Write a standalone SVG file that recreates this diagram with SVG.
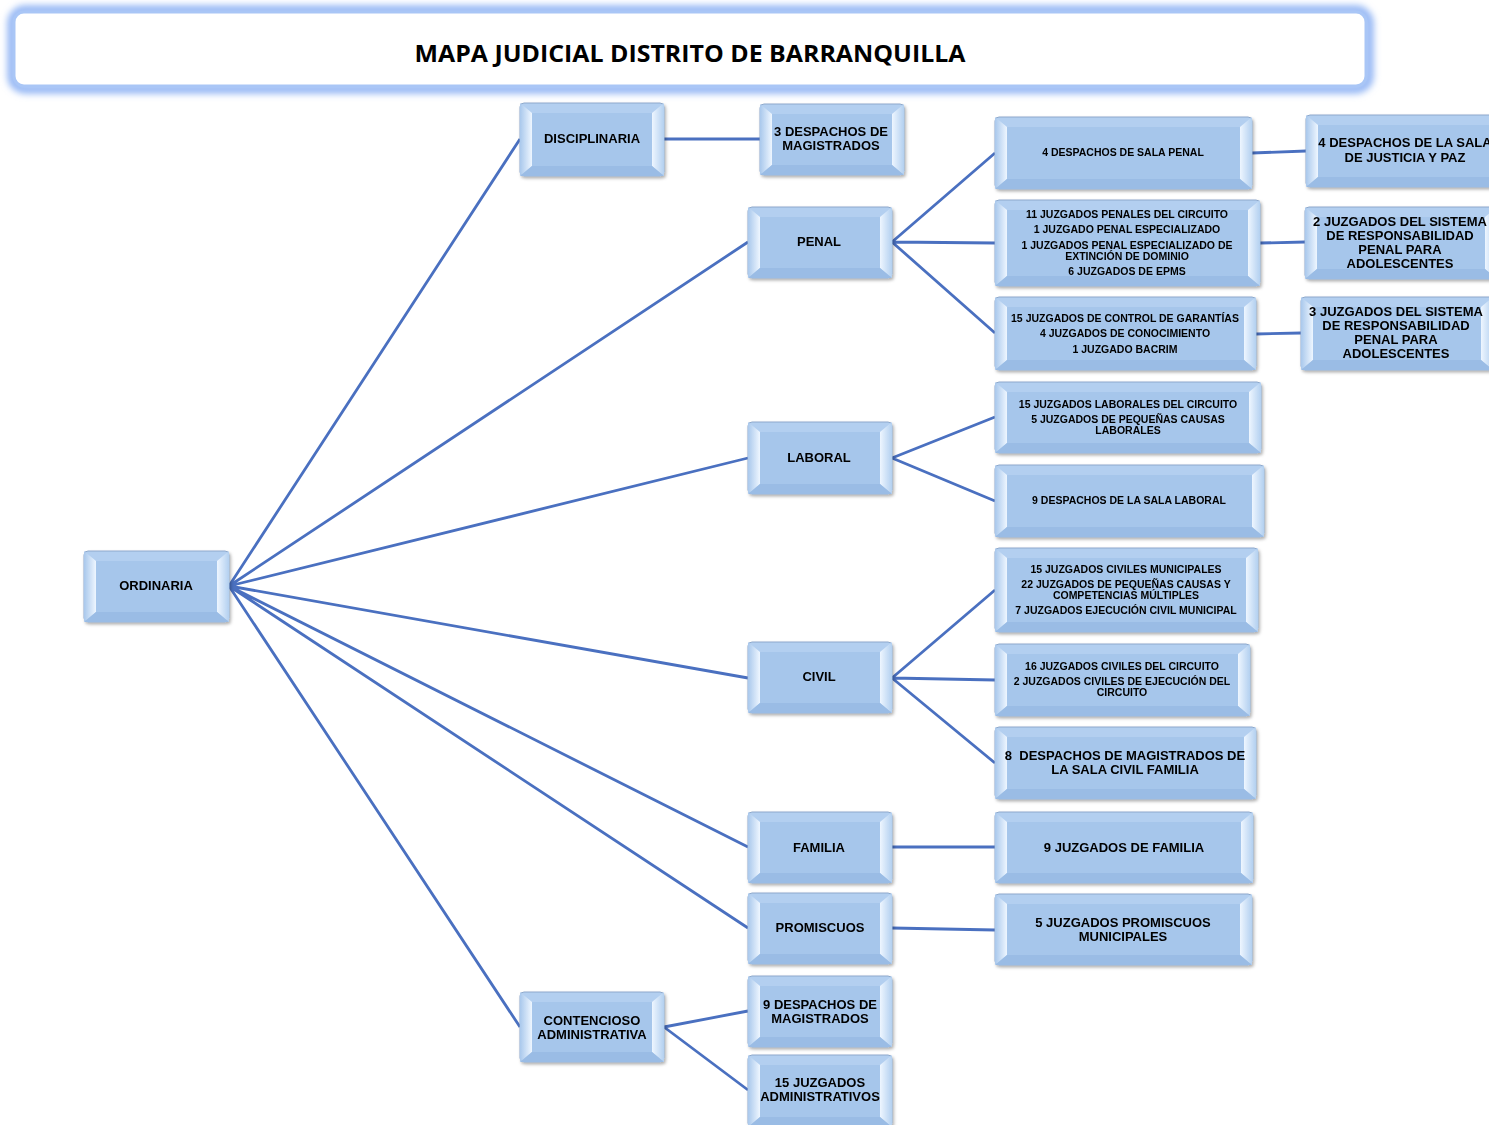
<svg xmlns="http://www.w3.org/2000/svg" width="1489" height="1125" viewBox="0 0 1489 1125">
<defs>
<style>
.o{fill:#b3cff0;stroke:#8ea9cc;stroke-width:1}
.l{fill:url(#gl)}
.r{fill:url(#gr)}
.b{fill:#9abce5}
.i{fill:#a6c6eb}
.t{font-family:"Liberation Sans",Arial,sans-serif;font-weight:700;fill:#000;text-anchor:middle}
.m{font-size:13px}
.s{font-size:10.5px}
.c{fill:none;stroke:#4a70c0;stroke-width:2.8}
.n{filter:url(#sh)}
</style>
<linearGradient id="gl" x1="0" y1="0" x2="1" y2="0"><stop offset="0" stop-color="#a9c8ec"/><stop offset="1" stop-color="#eef6ff"/></linearGradient>
<linearGradient id="gr" x1="0" y1="0" x2="1" y2="0"><stop offset="0" stop-color="#eef6ff"/><stop offset="1" stop-color="#b3d0f0"/></linearGradient>
<filter id="sh" x="-10%" y="-10%" width="125%" height="130%"><feDropShadow dx="1.5" dy="2" stdDeviation="1.5" flood-color="#000" flood-opacity="0.3"/></filter>
<filter id="glow" x="-5%" y="-30%" width="110%" height="160%"><feGaussianBlur stdDeviation="3.5"/></filter>
</defs>
<rect width="1489" height="1125" fill="#fff"/>
<g id="title">
<rect x="12" y="10" width="1357" height="79" rx="13" fill="none" stroke="#8fb3f4" stroke-width="9" filter="url(#glow)"/>
<rect x="14" y="12" width="1352" height="74" rx="10" fill="#fff" stroke="#a9c6f6" stroke-width="3"/>
<text x="690" y="62" font-family="'Open Sans','Liberation Sans',sans-serif" font-weight="700" font-size="24" text-anchor="middle" textLength="551" lengthAdjust="spacingAndGlyphs" fill="#000">MAPA JUDICIAL DISTRITO DE BARRANQUILLA</text>
</g>
<g id="connectors">
<path class="c" d="M229 586L520 139M229 586L748 242M229 586L748 458M229 586L748 678M229 586L748 847M229 586L748 928M229 586L520 1027"/>
<path class="c" d="M664 139L760 139"/>
<path class="c" d="M892 242L995 153M892 242L995 243M892 242L995 333"/>
<path class="c" d="M1252 153L1306 151M1260 243L1305 242M1256 334L1301 333"/>
<path class="c" d="M892 458L995 417M892 458L995 501"/>
<path class="c" d="M892 678L995 590M892 678L995 680M892 678L995 763"/>
<path class="c" d="M892 847L995 847M892 928L995 930"/>
<path class="c" d="M664 1027L748 1011M664 1027L748 1090"/>
</g>
<g id="ordinaria" class="n">
<rect class="o" x="84" y="551" width="145" height="71" rx="4"/>
<polygon class="l" points="84,551 96,561 96,612 84,622"/>
<polygon class="r" points="229,551 217,561 217,612 229,622"/>
<polygon class="b" points="84,622 96,612 217,612 229,622"/>
<rect class="i" x="96" y="561" width="121" height="51"/>
<text class="t m" x="156" y="590">ORDINARIA</text>
</g>
<g id="disciplinaria" class="n">
<rect class="o" x="520" y="103" width="144" height="73" rx="4"/>
<polygon class="l" points="520,103 532,113 532,166 520,176"/>
<polygon class="r" points="664,103 652,113 652,166 664,176"/>
<polygon class="b" points="520,176 532,166 652,166 664,176"/>
<rect class="i" x="532" y="113" width="120" height="53"/>
<text class="t m" x="592" y="143">DISCIPLINARIA</text>
</g>
<g id="desp-magistrados-disc" class="n">
<rect class="o" x="760" y="104" width="144" height="71" rx="4"/>
<polygon class="l" points="760,104 772,114 772,165 760,175"/>
<polygon class="r" points="904,104 892,114 892,165 904,175"/>
<polygon class="b" points="760,175 772,165 892,165 904,175"/>
<rect class="i" x="772" y="114" width="120" height="51"/>
<text class="t m" x="831" y="136">3 DESPACHOS DE</text>
<text class="t m" x="831" y="150">MAGISTRADOS</text>
</g>
<g id="penal" class="n">
<rect class="o" x="748" y="207" width="144" height="71" rx="4"/>
<polygon class="l" points="748,207 760,217 760,268 748,278"/>
<polygon class="r" points="892,207 880,217 880,268 892,278"/>
<polygon class="b" points="748,278 760,268 880,268 892,278"/>
<rect class="i" x="760" y="217" width="120" height="51"/>
<text class="t m" x="819" y="246">PENAL</text>
</g>
<g id="laboral" class="n">
<rect class="o" x="748" y="422" width="144" height="72" rx="4"/>
<polygon class="l" points="748,422 760,432 760,484 748,494"/>
<polygon class="r" points="892,422 880,432 880,484 892,494"/>
<polygon class="b" points="748,494 760,484 880,484 892,494"/>
<rect class="i" x="760" y="432" width="120" height="52"/>
<text class="t m" x="819" y="462">LABORAL</text>
</g>
<g id="civil" class="n">
<rect class="o" x="748" y="642" width="144" height="71" rx="4"/>
<polygon class="l" points="748,642 760,652 760,703 748,713"/>
<polygon class="r" points="892,642 880,652 880,703 892,713"/>
<polygon class="b" points="748,713 760,703 880,703 892,713"/>
<rect class="i" x="760" y="652" width="120" height="51"/>
<text class="t m" x="819" y="681">CIVIL</text>
</g>
<g id="familia" class="n">
<rect class="o" x="748" y="812" width="144" height="71" rx="4"/>
<polygon class="l" points="748,812 760,822 760,873 748,883"/>
<polygon class="r" points="892,812 880,822 880,873 892,883"/>
<polygon class="b" points="748,883 760,873 880,873 892,883"/>
<rect class="i" x="760" y="822" width="120" height="51"/>
<text class="t m" x="819" y="852">FAMILIA</text>
</g>
<g id="promiscuos" class="n">
<rect class="o" x="748" y="893" width="144" height="71" rx="4"/>
<polygon class="l" points="748,893 760,903 760,954 748,964"/>
<polygon class="r" points="892,893 880,903 880,954 892,964"/>
<polygon class="b" points="748,964 760,954 880,954 892,964"/>
<rect class="i" x="760" y="903" width="120" height="51"/>
<text class="t m" x="820" y="932">PROMISCUOS</text>
</g>
<g id="contencioso" class="n">
<rect class="o" x="520" y="992" width="144" height="70" rx="4"/>
<polygon class="l" points="520,992 532,1002 532,1052 520,1062"/>
<polygon class="r" points="664,992 652,1002 652,1052 664,1062"/>
<polygon class="b" points="520,1062 532,1052 652,1052 664,1062"/>
<rect class="i" x="532" y="1002" width="120" height="50"/>
<text class="t m" x="592" y="1025">CONTENCIOSO</text>
<text class="t m" x="592" y="1039">ADMINISTRATIVA</text>
</g>
<g id="desp-magistrados-ca" class="n">
<rect class="o" x="748" y="976" width="144" height="71" rx="4"/>
<polygon class="l" points="748,976 760,986 760,1037 748,1047"/>
<polygon class="r" points="892,976 880,986 880,1037 892,1047"/>
<polygon class="b" points="748,1047 760,1037 880,1037 892,1047"/>
<rect class="i" x="760" y="986" width="120" height="51"/>
<text class="t m" x="820" y="1009">9 DESPACHOS DE</text>
<text class="t m" x="820" y="1023">MAGISTRADOS</text>
</g>
<g id="juzgados-admin" class="n">
<rect class="o" x="748" y="1055" width="144" height="72" rx="4"/>
<polygon class="l" points="748,1055 760,1065 760,1117 748,1127"/>
<polygon class="r" points="892,1055 880,1065 880,1117 892,1127"/>
<polygon class="b" points="748,1127 760,1117 880,1117 892,1127"/>
<rect class="i" x="760" y="1065" width="120" height="52"/>
<text class="t m" x="820" y="1087">15 JUZGADOS</text>
<text class="t m" x="820" y="1101">ADMINISTRATIVOS</text>
</g>
<g id="sala-penal" class="n">
<rect class="o" x="995" y="117" width="257" height="72" rx="4"/>
<polygon class="l" points="995,117 1007,127 1007,179 995,189"/>
<polygon class="r" points="1252,117 1240,127 1240,179 1252,189"/>
<polygon class="b" points="995,189 1007,179 1240,179 1252,189"/>
<rect class="i" x="1007" y="127" width="233" height="52"/>
<text class="t s" x="1123" y="156">4 DESPACHOS DE SALA PENAL</text>
</g>
<g id="juzgados-penales" class="n">
<rect class="o" x="995" y="200" width="265" height="86" rx="4"/>
<polygon class="l" points="995,200 1007,210 1007,276 995,286"/>
<polygon class="r" points="1260,200 1248,210 1248,276 1260,286"/>
<polygon class="b" points="995,286 1007,276 1248,276 1260,286"/>
<rect class="i" x="1007" y="210" width="241" height="66"/>
<text class="t s" x="1127" y="218">11 JUZGADOS PENALES DEL CIRCUITO</text>
<text class="t s" x="1127" y="233">1 JUZGADO PENAL ESPECIALIZADO</text>
<text class="t s" x="1127" y="249">1 JUZGADOS PENAL ESPECIALIZADO DE</text>
<text class="t s" x="1127" y="260">EXTINCIÓN DE DOMINIO</text>
<text class="t s" x="1127" y="275">6 JUZGADOS DE EPMS</text>
</g>
<g id="juzgados-garantias" class="n">
<rect class="o" x="995" y="297" width="261" height="73" rx="4"/>
<polygon class="l" points="995,297 1007,307 1007,360 995,370"/>
<polygon class="r" points="1256,297 1244,307 1244,360 1256,370"/>
<polygon class="b" points="995,370 1007,360 1244,360 1256,370"/>
<rect class="i" x="1007" y="307" width="237" height="53"/>
<text class="t s" x="1125" y="322">15 JUZGADOS DE CONTROL DE GARANTÍAS</text>
<text class="t s" x="1125" y="337">4 JUZGADOS DE CONOCIMIENTO</text>
<text class="t s" x="1125" y="353">1 JUZGADO BACRIM</text>
</g>
<g id="juzgados-laborales" class="n">
<rect class="o" x="995" y="382" width="266" height="71" rx="4"/>
<polygon class="l" points="995,382 1007,392 1007,443 995,453"/>
<polygon class="r" points="1261,382 1249,392 1249,443 1261,453"/>
<polygon class="b" points="995,453 1007,443 1249,443 1261,453"/>
<rect class="i" x="1007" y="392" width="242" height="51"/>
<text class="t s" x="1128" y="408">15 JUZGADOS LABORALES DEL CIRCUITO</text>
<text class="t s" x="1128" y="423">5 JUZGADOS DE PEQUEÑAS CAUSAS</text>
<text class="t s" x="1128" y="434">LABORALES</text>
</g>
<g id="sala-laboral" class="n">
<rect class="o" x="995" y="465" width="269" height="72" rx="4"/>
<polygon class="l" points="995,465 1007,475 1007,527 995,537"/>
<polygon class="r" points="1264,465 1252,475 1252,527 1264,537"/>
<polygon class="b" points="995,537 1007,527 1252,527 1264,537"/>
<rect class="i" x="1007" y="475" width="245" height="52"/>
<text class="t s" x="1129" y="504">9 DESPACHOS DE LA SALA LABORAL</text>
</g>
<g id="juzgados-civiles-mun" class="n">
<rect class="o" x="995" y="548" width="263" height="84" rx="4"/>
<polygon class="l" points="995,548 1007,558 1007,622 995,632"/>
<polygon class="r" points="1258,548 1246,558 1246,622 1258,632"/>
<polygon class="b" points="995,632 1007,622 1246,622 1258,632"/>
<rect class="i" x="1007" y="558" width="239" height="64"/>
<text class="t s" x="1126" y="573">15 JUZGADOS CIVILES MUNICIPALES</text>
<text class="t s" x="1126" y="588">22 JUZGADOS DE PEQUEÑAS CAUSAS Y</text>
<text class="t s" x="1126" y="599">COMPETENCIAS MÚLTIPLES</text>
<text class="t s" x="1126" y="614">7 JUZGADOS EJECUCIÓN CIVIL MUNICIPAL</text>
</g>
<g id="juzgados-civiles-cir" class="n">
<rect class="o" x="995" y="644" width="255" height="72" rx="4"/>
<polygon class="l" points="995,644 1007,654 1007,706 995,716"/>
<polygon class="r" points="1250,644 1238,654 1238,706 1250,716"/>
<polygon class="b" points="995,716 1007,706 1238,706 1250,716"/>
<rect class="i" x="1007" y="654" width="231" height="52"/>
<text class="t s" x="1122" y="670">16 JUZGADOS CIVILES DEL CIRCUITO</text>
<text class="t s" x="1122" y="685">2 JUZGADOS CIVILES DE EJECUCIÓN DEL</text>
<text class="t s" x="1122" y="696">CIRCUITO</text>
</g>
<g id="sala-civil-familia" class="n">
<rect class="o" x="995" y="727" width="261" height="72" rx="4"/>
<polygon class="l" points="995,727 1007,737 1007,789 995,799"/>
<polygon class="r" points="1256,727 1244,737 1244,789 1256,799"/>
<polygon class="b" points="995,799 1007,789 1244,789 1256,799"/>
<rect class="i" x="1007" y="737" width="237" height="52"/>
<text class="t m" x="1125" y="760" xml:space="preserve">8  DESPACHOS DE MAGISTRADOS DE</text>
<text class="t m" x="1125" y="774">LA SALA CIVIL FAMILIA</text>
</g>
<g id="juzgados-familia" class="n">
<rect class="o" x="995" y="812" width="258" height="71" rx="4"/>
<polygon class="l" points="995,812 1007,822 1007,873 995,883"/>
<polygon class="r" points="1253,812 1241,822 1241,873 1253,883"/>
<polygon class="b" points="995,883 1007,873 1241,873 1253,883"/>
<rect class="i" x="1007" y="822" width="234" height="51"/>
<text class="t m" x="1124" y="852">9 JUZGADOS DE FAMILIA</text>
</g>
<g id="juzgados-promiscuos" class="n">
<rect class="o" x="995" y="894" width="257" height="71" rx="4"/>
<polygon class="l" points="995,894 1007,904 1007,955 995,965"/>
<polygon class="r" points="1252,894 1240,904 1240,955 1252,965"/>
<polygon class="b" points="995,965 1007,955 1240,955 1252,965"/>
<rect class="i" x="1007" y="904" width="233" height="51"/>
<text class="t m" x="1123" y="927">5 JUZGADOS PROMISCUOS</text>
<text class="t m" x="1123" y="941">MUNICIPALES</text>
</g>
<g id="justicia-paz" class="n">
<rect class="o" x="1306" y="115" width="198" height="72" rx="4"/>
<polygon class="l" points="1306,115 1318,125 1318,177 1306,187"/>
<polygon class="b" points="1306,187 1318,177 1504,177 1504,187"/>
<rect class="i" x="1318" y="125" width="186" height="52"/>
<text class="t m" x="1405" y="147">4 DESPACHOS DE LA SALA</text>
<text class="t m" x="1405" y="162">DE JUSTICIA Y PAZ</text>
</g>
<g id="srpa-2" class="n">
<rect class="o" x="1305" y="207" width="192" height="72" rx="4"/>
<polygon class="l" points="1305,207 1317,217 1317,269 1305,279"/>
<polygon class="r" points="1497,207 1485,217 1485,269 1497,279"/>
<polygon class="b" points="1305,279 1317,269 1485,269 1497,279"/>
<rect class="i" x="1317" y="217" width="168" height="52"/>
<text class="t m" x="1400" y="226">2 JUZGADOS DEL SISTEMA</text>
<text class="t m" x="1400" y="240">DE RESPONSABILIDAD</text>
<text class="t m" x="1400" y="254">PENAL PARA</text>
<text class="t m" x="1400" y="268">ADOLESCENTES</text>
</g>
<g id="srpa-3" class="n">
<rect class="o" x="1301" y="297" width="192" height="73" rx="4"/>
<polygon class="l" points="1301,297 1313,307 1313,360 1301,370"/>
<polygon class="r" points="1493,297 1481,307 1481,360 1493,370"/>
<polygon class="b" points="1301,370 1313,360 1481,360 1493,370"/>
<rect class="i" x="1313" y="307" width="168" height="53"/>
<text class="t m" x="1396" y="316">3 JUZGADOS DEL SISTEMA</text>
<text class="t m" x="1396" y="330">DE RESPONSABILIDAD</text>
<text class="t m" x="1396" y="344">PENAL PARA</text>
<text class="t m" x="1396" y="358">ADOLESCENTES</text>
</g>
</svg>
